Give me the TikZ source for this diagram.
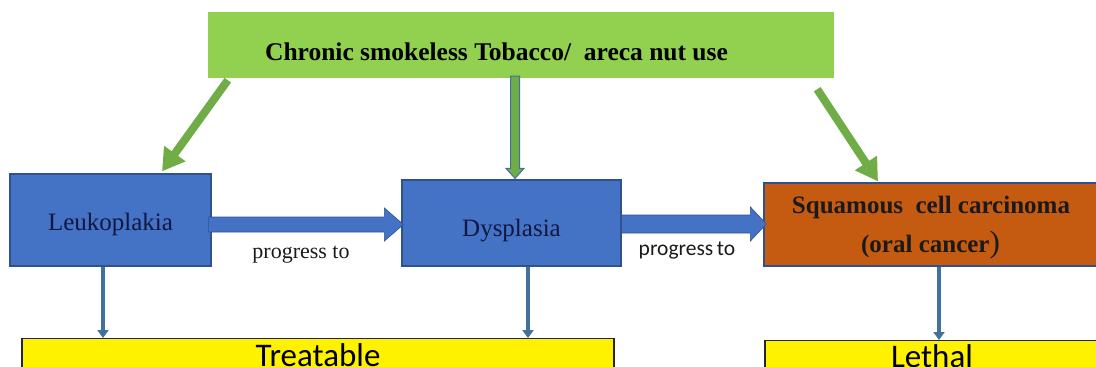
\documentclass[tikz,border=0pt]{standalone}
\usepackage{fontspec}
\setmainfont{Liberation Serif}
\newfontfamily\calib{Carlito}
\usetikzlibrary{arrows.meta,calc}
\definecolor{boxblue}{HTML}{4472C4}
\definecolor{edgeblue}{HTML}{2F528F}
\definecolor{steelblue}{HTML}{41719C}
\definecolor{lightgreen}{HTML}{92D050}
\definecolor{arrowgreen}{HTML}{70AD47}
\definecolor{rust}{HTML}{C55A11}
\definecolor{navytext}{HTML}{101841}
\definecolor{textgray}{HTML}{1A1A1A}
\begin{document}
\begin{tikzpicture}[x=1pt,y=-1pt,
  bluebox/.style={draw=edgeblue,line width=1.2pt,fill=boxblue,inner sep=0pt,text=navytext,font=\fontsize{25}{30}\selectfont},
  yellowbox/.style={draw=black!85,line width=1.2pt,fill=yellow,inner sep=0pt,font=\calib\fontsize{33}{38}\selectfont},
  greenarrow/.style={draw=arrowgreen,line width=8pt,-{Triangle[length=22pt,width=25pt]}},
  downarrow/.style={draw=steelblue,line width=4pt,-{Triangle[length=8pt,width=11pt]}},
  label/.style={inner sep=0pt,anchor=base,text=textgray,font=\fontsize{22}{26}\selectfont}]
\useasboundingbox (0,0) rectangle (1096,367);
% boxes
\node[draw=lightgreen,fill=lightgreen,minimum width=625pt,minimum height=65pt,inner sep=0pt] (top) at (520.5,44.5) {};
\node[inner sep=0pt,anchor=base,font=\bfseries\fontsize{25.5}{30}\selectfont] (toptext) at (496.5,60) {Chronic smokeless Tobacco/\ \ areca nut use};
\node[bluebox,minimum width=201pt,text height=56pt,text depth=36pt] (leuk) at (110.5,220) {Leukoplakia};
\node[bluebox,minimum width=219pt,text height=56pt,text depth=30pt] (dys) at (511.5,223) {Dysplasia};
\node[draw=edgeblue,line width=1.2pt,fill=rust,minimum width=336pt,minimum height=83pt,inner sep=0pt] (scc) at (932,224.5) {};
\node[inner sep=0pt,anchor=base,text=textgray,font=\bfseries\fontsize{25}{30}\selectfont] (scc1) at (931,213) {Squamous\ \ cell carcinoma};
\node[inner sep=0pt,anchor=base,text=textgray,font=\bfseries\fontsize{25}{30}\selectfont] (scc2) at (930.5,252) {(oral cancer{\mdseries\fontsize{31}{30}\selectfont)}};
\node[yellowbox,minimum width=592pt,text height=28pt,text depth=34pt,anchor=north] (treat) at (318,338) {Treatable};
\node[yellowbox,minimum width=334pt,text height=27pt,text depth=33pt,anchor=north] (lethal) at (932,340) {Lethal};
% progress labels
\node[label] (p1) at (301,258) {progress to};
\node[label,font=\calib\fontsize{21.5}{26}\selectfont] (p2) at (687,255) {progress\,to};
% blue block arrows
\fill[boxblue,draw=edgeblue,line width=0.6pt] let \p1=([yshift=-4.5pt]leuk.east), \p2=([yshift=-4.5pt]leuk.east -| dys.west) in
  (\x1-3pt,\y1+7.5pt) -- (\x2-17pt,\y1+7.5pt) -- (\x2-17pt,\y1+16.5pt) -- (\x2+2pt,\y1) -- (\x2-17pt,\y1-16.5pt) -- (\x2-17pt,\y1-7.5pt) -- (\x1-3pt,\y1-7.5pt) -- cycle;
\fill[boxblue,draw=edgeblue,line width=0.6pt] let \p1=([yshift=-1pt]dys.east), \p2=([yshift=-1pt]dys.east -| scc.west) in
  (\x1,\y1+9pt) -- (\x2-13pt,\y1+9pt) -- (\x2-13pt,\y1+17pt) -- (\x2+3pt,\y1) -- (\x2-13pt,\y1-17pt) -- (\x2-13pt,\y1-9pt) -- (\x1,\y1-9pt) -- cycle;
% green diagonal arrows
\coordinate (gl) at ([xshift=20pt,yshift=-3pt]top.south west);
\coordinate (gr) at ([xshift=-16pt,yshift=-12pt]top.south east);
\draw[greenarrow] (gl) -- ([xshift=51.5pt,yshift=2pt]leuk.north);
\draw[greenarrow] (gr) -- ([xshift=-54pt,yshift=1pt]scc.north);
% middle green block arrow
\filldraw[fill=arrowgreen,draw=steelblue,line width=1pt] let \p1=([xshift=-5.5pt]top.south), \p2=([xshift=3.5pt]dys.north) in
  (\x2-4.5pt,\y1+1pt) -- (\x2+4.5pt,\y1+1pt) -- (\x2+4.5pt,\y2+11pt) -- (\x2+9pt,\y2+11pt) -- (\x2,\y2+1pt) -- (\x2-9pt,\y2+11pt) -- (\x2-4.5pt,\y2+11pt) -- cycle;
% down arrows
\draw[downarrow] ([xshift=-7.5pt]leuk.south) -- ([xshift=-7.5pt]leuk.south |- treat.north);
\draw[downarrow] ([xshift=16.5pt]dys.south) -- ([xshift=16.5pt]dys.south |- treat.north);
\draw[downarrow] ([xshift=7pt]scc.south) -- ([xshift=7pt]scc.south |- lethal.north);
\end{tikzpicture}
\end{document}
